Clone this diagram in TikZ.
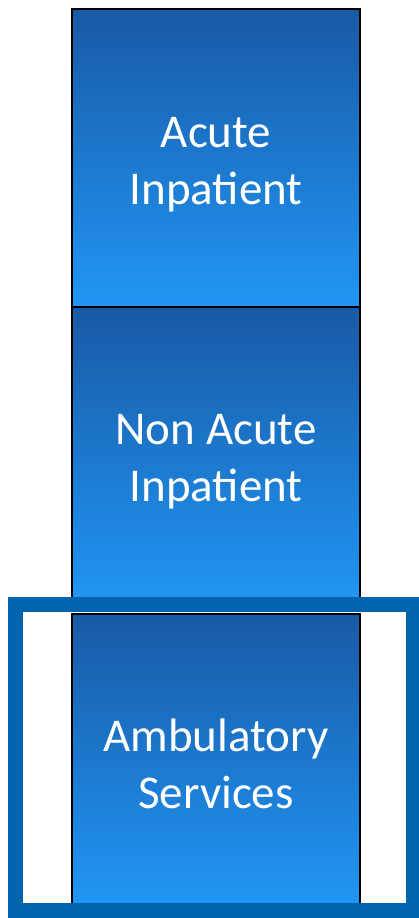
\documentclass[tikz,border=0pt]{standalone}
\usepackage{fontspec}
\setmainfont{Carlito}
\definecolor{boxtop}{RGB}{24,90,165}
\definecolor{boxbot}{RGB}{33,150,245}
\definecolor{framec}{RGB}{0,100,175}
\begin{document}
\begin{tikzpicture}[x=1pt,y=-1pt,
  tier/.style={draw=black,line width=1.5pt,top color=boxtop,bottom color=boxbot},
  lbl/.style={text=white,align=center,font=\fontsize{47}{57}\selectfont}]
\useasboundingbox (0,0) rectangle (418,918);
\draw[tier] (72,9) rectangle (360,307);
\draw[tier] (72,307) rectangle (360,605);
\draw[tier] (72,614) rectangle (360,905);
\node[lbl] (acute) at (216,165) {Acute\\Inpatient};
\node[lbl] (nonacute) at (216,462) {Non Acute\\Inpatient};
\node[lbl] (amb) at (216,764) {Ambulatory\\Services};
\draw[draw=framec,line width=15pt] (15,604) rectangle (413,910);
\end{tikzpicture}
\end{document}
